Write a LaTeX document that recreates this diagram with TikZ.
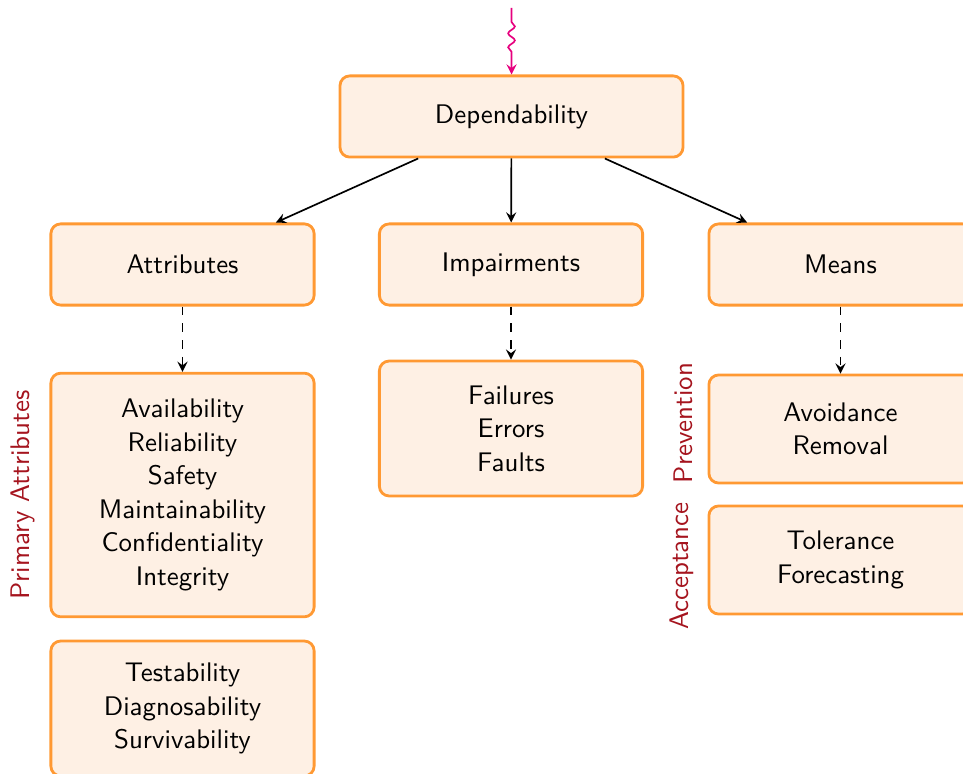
\documentclass[tikz,border=0pt]{standalone}
\usepackage[dvipsnames]{xcolor}
\usepackage{tikz}
\usetikzlibrary{decorations.pathmorphing}
\renewcommand{\familydefault}{\sfdefault}

\definecolor{boxline}{RGB}{255,153,51}
\definecolor{boxfill}{RGB}{254,240,228}
\definecolor{sidetext}{RGB}{165,20,30}
\definecolor{wavy}{RGB}{230,0,126}

\tikzset{
  dbox/.style={draw=boxline, fill=boxfill, line width=1pt, rounded corners=3.5pt,
    minimum width=94pt, align=center, inner sep=2pt, font=\fontsize{9.6pt}{12pt}\selectfont},
  sidelabel/.style={rotate=90, text=sidetext, inner sep=0.75pt, font=\fontsize{9.6pt}{12pt}\selectfont},
  tree/.style={-stealth, semithick},
  dashtree/.style={-stealth, semithick, dashed}
}

\begin{document}
\begin{tikzpicture}[x=0.3571pt,y=0.3571pt,yscale=-1,xscale=1]
\useasboundingbox (0,0) rectangle (963,774);

% Top Node
\node [dbox, minimum width=122.5pt, minimum height=29pt] (dep) at (511.5,116.5) {Dependability};

% Second Row
\node [dbox, minimum height=29pt] (attr) at (182.5,264.5) {Attributes};
\node [dbox, minimum height=29pt] (imp) at (511,264.5) {Impairments};
\node [dbox, minimum height=29pt] (means) at (840.5,264.5) {Means};

% Attribute Boxes
\node [dbox, minimum height=87pt] (prim) at (182.5,495) {Availability\\Reliability\\Safety\\Maintainability\\Confidentiality\\Integrity};
\node [dbox, minimum height=48.2pt] (sec) at (182.5,708.5) {Testability\\Diagnosability\\Survivability};

% Impairment Box
\node [dbox, minimum height=48.2pt] (fail) at (511,428.5) {Failures\\Errors\\Faults};

% Means Boxes
\node [dbox, minimum height=38.6pt] (prev) at (840.5,429) {Avoidance\\Removal};
\node [dbox, minimum height=38.6pt] (acc) at (840.5,560) {Tolerance\\Forecasting};

% Side Labels
\node [sidelabel] (primlab) at (23,495) {Primary Attributes};
\node [sidelabel] (prevlab) at (683,423) {Prevention};
\node [sidelabel] (acclab) at (682,566) {Acceptance};

% Connectors
\coordinate (src) at (511.5,8);
\draw [-stealth, semithick, wavy, decorate, decoration={snake, amplitude=1.2pt, segment length=5pt, pre length=5pt, post length=6pt}] (src) -- (dep.north);
\draw [tree] (dep) -- (attr);
\draw [tree] (dep) -- (imp);
\draw [tree] (dep) -- (means);
\draw [dashtree] (attr) -- (prim);
\draw [dashtree] (imp) -- (fail);
\draw [dashtree] (means.south) -- (prev.north);
\end{tikzpicture}
\end{document}
